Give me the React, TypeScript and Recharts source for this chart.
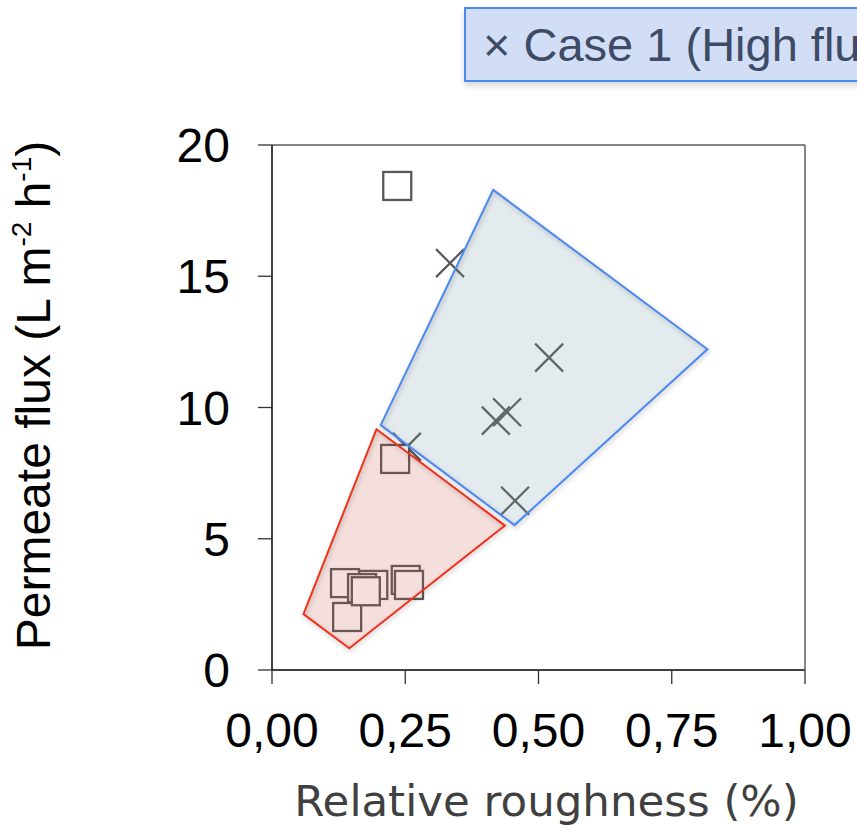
import { ScatterChart, Scatter, XAxis, YAxis } from 'recharts'

// relative roughness (%) vs permeate flux (L m-2 h-1)
const xTicks = [0, 0.25, 0.5, 0.75, 1]
const yTicks = [0, 5, 10, 15, 20]

const highFlux = [
  { x: 0.334, y: 15.5 },
  { x: 0.52, y: 11.9 },
  { x: 0.42, y: 9.5 },
  { x: 0.441, y: 9.82 },
  { x: 0.456, y: 6.45 },
  { x: 0.253, y: 8.5 },
]

const lowFlux = [
  { x: 0.235, y: 18.44 },
  { x: 0.231, y: 8.04 },
  { x: 0.137, y: 3.31 },
  { x: 0.141, y: 2.02 },
  { x: 0.19, y: 3.24 },
  { x: 0.169, y: 3.12 },
  { x: 0.176, y: 3.0 },
  { x: 0.251, y: 3.43 },
  { x: 0.257, y: 3.24 },
]

const blueZone = [
  { x: 0.204, y: 9.33 },
  { x: 0.415, y: 18.29 },
  { x: 0.817, y: 12.22 },
  { x: 0.455, y: 5.52 },
]

const redZone = [
  { x: 0.196, y: 9.17 },
  { x: 0.437, y: 5.5 },
  { x: 0.145, y: 0.83 },
  { x: 0.059, y: 2.13 },
]

const FONT = '"Liberation Sans", Arial, sans-serif'

function Cross({ cx, cy }: any) {
  const h = 14
  return (
    <g stroke="#595959" strokeWidth={2.2}>
      <line x1={cx - h} y1={cy - h} x2={cx + h} y2={cy + h} />
      <line x1={cx - h} y1={cy + h} x2={cx + h} y2={cy - h} />
    </g>
  )
}

function Square({ cx, cy }: any) {
  const h = 14
  return <rect x={cx - h} y={cy - h} width={h * 2} height={h * 2} fill="#fff" stroke="#595959" strokeWidth={2.3} />
}

const Hidden = () => <g />

function zone(stroke: string, fill: string, opacity: number) {
  return (p: any) => {
    const pts = (p.points || []).map((q: any) => `${q.x},${q.y}`).join(' ')
    return (
      <g>
        <polygon points={pts} fill={fill} fillOpacity={opacity} stroke="none" />
        <polygon points={pts} fill="none" stroke={stroke} strokeWidth={2}
          style={{ filter: 'drop-shadow(1px 2px 2px rgba(0,0,0,0.25))' }} />
      </g>
    )
  }
}

function YLabel({ viewBox }: any) {
  const cy = viewBox.y + viewBox.height / 2 - 12
  return (
    <text transform={`translate(${viewBox.x + 50}, ${cy}) rotate(-90)`} textAnchor="middle"
      fontSize={48} fontFamily={FONT} fill="#000">
      Permeate flux (L m<tspan fontSize={28} dy={-19}>-2</tspan>
      <tspan dy={19}> h</tspan><tspan fontSize={28} dy={-19}>-1</tspan><tspan dy={19}>)</tspan>
    </text>
  )
}

function XLabel({ viewBox }: any) {
  return (
    <text x={viewBox.x + viewBox.width / 2 + 8} y={viewBox.y + viewBox.height - 10} textAnchor="middle"
      fontSize={43.5} fontFamily='"DejaVu Sans", sans-serif' fill="#404040">
      Relative roughness (%)
    </text>
  )
}

export default function App() {
  return (
    <div style={{ position: 'absolute', left: 0, top: 0, width: 857, height: 826, overflow: 'hidden', background: '#fff' }}>
      <ScatterChart width={857} height={826} margin={{ top: 143, right: 0, bottom: 0, left: 0 }}>
        <XAxis type="number" dataKey="x" domain={[0, 1]} ticks={xTicks} height={156}
          tickFormatter={(v: number) => v.toFixed(2).replace('.', ',')}
          tick={{ fontSize: 48, fontFamily: FONT, fill: '#000' }} tickSize={14} tickMargin={29}
          axisLine={{ stroke: '#000', strokeWidth: 1.5 }} tickLine={{ stroke: '#333', strokeWidth: 1.3 }}
          label={<XLabel />} />
        <XAxis xAxisId="top" orientation="top" type="number" dataKey="x" domain={[0, 1]} height={2}
          tick={false} tickLine={false} axisLine={{ stroke: '#5c5c5c', strokeWidth: 1.5 }} />
        <YAxis type="number" dataKey="y" domain={[0, 20]} ticks={yTicks} width={272}
          tick={{ fontSize: 48, fontFamily: FONT, fill: '#000' }} tickSize={14} tickMargin={28}
          axisLine={{ stroke: '#000', strokeWidth: 1.5 }} tickLine={{ stroke: '#333', strokeWidth: 1.3 }}
          label={<YLabel />} />
        <YAxis yAxisId="right" orientation="right" type="number" dataKey="y" domain={[0, 20]} width={52}
          tick={false} tickLine={false} axisLine={{ stroke: '#5c5c5c', strokeWidth: 1.5 }} />
        <Scatter data={highFlux} shape={<Cross />} isAnimationActive={false} />
        <Scatter data={lowFlux} shape={<Square />} isAnimationActive={false} />
        <Scatter data={redZone} shape={<Hidden />} line={zone('#f0321c', '#c8503c', 0.18)} isAnimationActive={false} />
        <Scatter data={blueZone} shape={<Hidden />} line={zone('#4a88f2', '#7a9cb0', 0.2)} isAnimationActive={false} />
      </ScatterChart>
      <div style={{
        position: 'absolute', left: 464, top: 7, width: 460, height: 71,
        background: '#d2def5', border: '2px solid #4a88f2', boxShadow: '0 4px 6px rgba(0,0,0,0.15)',
        display: 'flex', alignItems: 'center', paddingLeft: 17, boxSizing: 'content-box',
        fontFamily: FONT, fontSize: 47, color: '#3d4b66', whiteSpace: 'nowrap',
      }}>
        × Case 1 (High flux)
      </div>
    </div>
  )
}
